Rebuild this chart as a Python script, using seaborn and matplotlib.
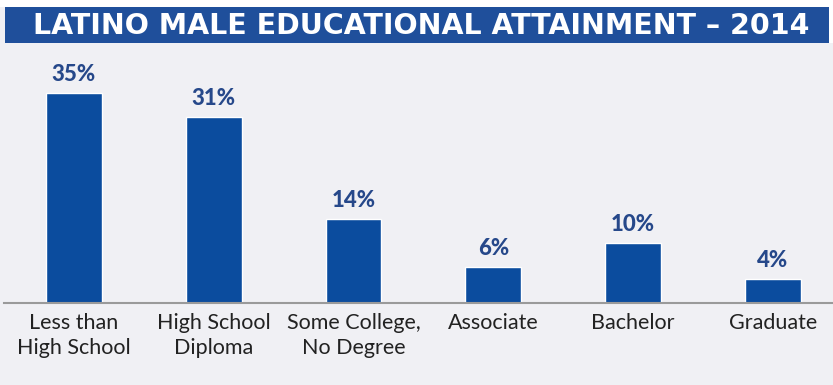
import matplotlib
matplotlib.use("Agg")
import matplotlib.pyplot as plt
import seaborn as sns
import pandas as pd
from matplotlib.patches import Rectangle

categories = ["Less than\nHigh School", "High School\nDiploma", "Some College,\nNo Degree",
              "Associate", "Bachelor", "Graduate"]
values = [35, 31, 14, 6, 10, 4]
value_labels = ["35%", "31%", "14%", "6%", "10%", "4%"]
title = "LATINO MALE EDUCATIONAL ATTAINMENT – 2014"

bg = "#f0f0f4"
bar_color = "#0b4c9e"
banner_color = "#1f4f9b"
label_blue = "#26488a"

sns.set_theme(style="white")
plt.rcParams["font.family"] = ["Lato", "DejaVu Sans"]

fig = plt.figure(figsize=(8.33, 3.85), dpi=100)
fig.patch.set_facecolor(bg)

# white strip at top and banner
fig.patches.append(Rectangle((0, 1 - 7/385), 1, 7/385, transform=fig.transFigure,
                             facecolor="white", edgecolor="none", zorder=0))
fig.patches.append(Rectangle((829/833, 1 - 43/385), 4/833, 43/385, transform=fig.transFigure,
                             facecolor="white", edgecolor="none", zorder=0))
fig.patches.append(Rectangle((5/833, 1 - 43/385), 824/833, 36/385,
                             transform=fig.transFigure, facecolor=banner_color,
                             edgecolor="none", zorder=1))
fig.text(421/833, 1 - 26/385, title, ha="center", va="center", color="white",
         fontsize=20.5, fontweight="bold", family=["DejaVu Sans"])

ax = fig.add_axes([4/833, 82/385, 829/833, 240/385])
ax.set_facecolor(bg)
df = pd.DataFrame({"cat": categories, "val": values})
sns.barplot(data=df, x="cat", y="val", color=bar_color, width=0.4, saturation=1, ax=ax)
ax.set_xlim(-0.5, 5.43)
ax.set_ylim(0, 40)
for i, (v, lab) in enumerate(zip(values, value_labels)):
    ax.text(i, v + 1.3, lab, ha="center", va="bottom", color=label_blue,
            fontsize=16, fontweight="black")
for s in ["top", "right", "left"]:
    ax.spines[s].set_visible(False)
ax.spines["bottom"].set_color("#9a9a9a")
ax.spines["bottom"].set_linewidth(1.5)
ax.set_yticks([])
ax.set_xlabel("")
ax.set_ylabel("")
ax.tick_params(axis="x", length=0, pad=7, labelsize=15.5, labelcolor="#222222")
for t in ax.get_xticklabels():
    t.set_linespacing(1.35)

fig.savefig("out.png", dpi=100, facecolor=bg)
